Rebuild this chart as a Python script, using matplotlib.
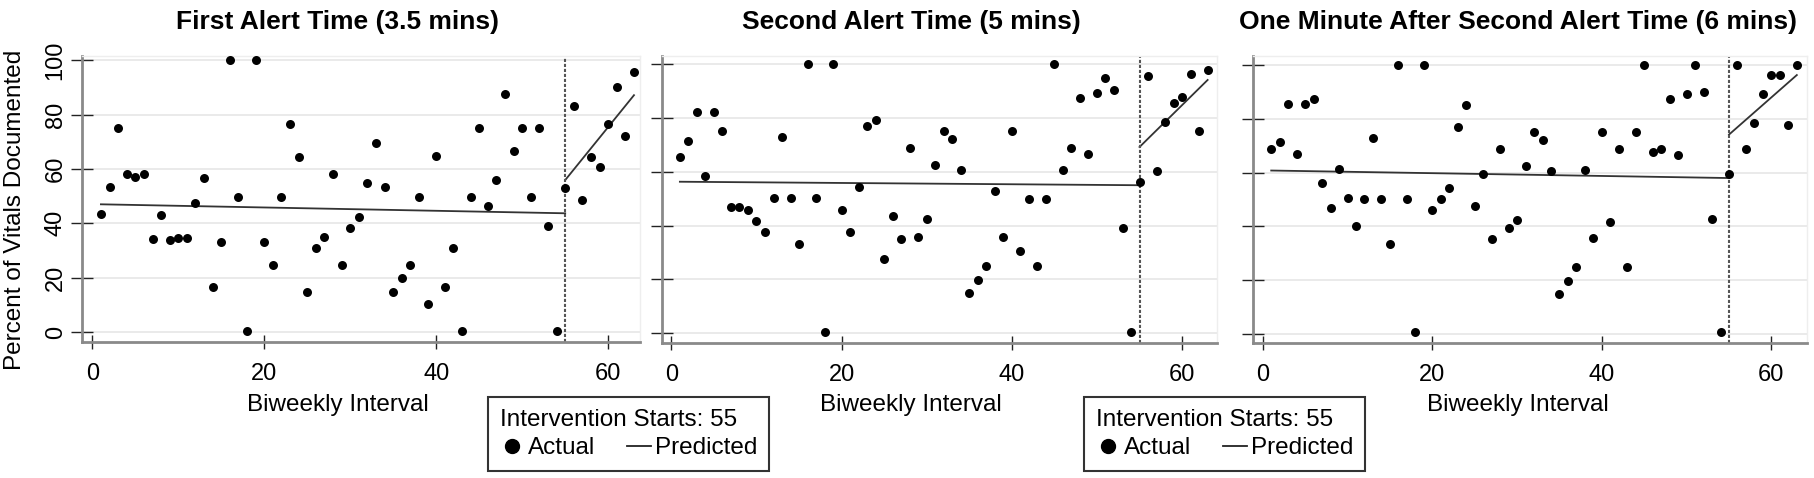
import matplotlib
matplotlib.use("Agg")
import matplotlib.pyplot as plt
from matplotlib.lines import Line2D

plt.rcParams['font.family'] = ['Liberation Sans', 'DejaVu Sans']

# biweekly intervals 1..63, intervention starts at 55
intervals = list(range(1, 64))
intervention = 55

first_alert = [43.6, 53.4, 74.9, 58.3, 56.9, 58.3, 34.3, 43.2, 34.0, 34.5,
               34.8, 47.5, 56.7, 16.5, 33.2, 100, 49.8, 0.5, 100, 33.2,
               24.8, 49.8, 76.6, 64.5, 14.8, 31.1, 34.9, 58.3, 24.8, 38.4,
               42.4, 55.0, 69.4, 53.4, 14.8, 19.8, 24.8, 49.8, 10.5, 64.9,
               16.5, 31.1, 0.5, 49.8, 74.9, 46.3, 56.1, 87.4, 66.5, 74.9,
               49.8, 74.9, 39.2, 0.5, 53.0, 83.2, 48.5, 64.3, 60.6, 76.6,
               90.0, 72.2, 95.7]
second_alert = [65.6, 71.4, 82.2, 58.4, 82.2, 75.0, 46.9, 46.9, 45.7, 41.6,
                37.5, 50.1, 72.8, 50.1, 33.3, 100, 50.1, 0.5, 100, 45.9,
                37.5, 54.2, 76.9, 79.1, 27.6, 43.7, 35.0, 68.7, 35.8, 42.5,
                62.5, 75.0, 72.2, 60.6, 15.1, 19.9, 25.1, 52.7, 35.8, 75.0,
                30.4, 50.0, 25.1, 50.0, 100, 60.6, 68.7, 87.5, 66.7, 89.2,
                94.9, 90.2, 39.2, 0.5, 56.3, 95.7, 60.3, 78.6, 85.6, 87.6,
                96.5, 75.0, 97.9]
one_min_after = [68.8, 71.4, 85.7, 66.8, 85.7, 87.6, 56.3, 46.8, 61.3, 50.7,
                 40.0, 50.1, 72.8, 50.1, 33.3, 100, 50.1, 0.5, 100, 45.9,
                 50.1, 54.2, 76.9, 85.4, 47.5, 59.5, 35.1, 68.8, 39.3, 42.4,
                 62.5, 75.1, 72.2, 60.7, 14.8, 19.8, 24.9, 61.1, 35.7, 75.1,
                 41.6, 68.7, 24.9, 75.1, 100, 67.8, 68.7, 87.5, 66.7, 89.3,
                 100, 90.1, 42.8, 0.5, 59.5, 100, 69.0, 78.6, 89.2, 96.5,
                 96.5, 77.8, 100]

# predicted segment end points (pre and post intervention)
pre_x = [1, 55]
post_x = [55, 63]
pred_pre = [[47.0, 43.7], [56.3, 55.0], [60.8, 58.0]]
pred_post = [[55.9, 87.1], [69.2, 94.1], [74.2, 96.4]]

titles = ["First Alert Time (3.5 mins)", "Second Alert Time (5 mins)",
          "One Minute After Second Alert Time (6 mins)"]
series = [first_alert, second_alert, one_min_after]

W, H = 1814, 478
fig = plt.figure(figsize=(W / 100, H / 100), dpi=100)

# pixel boxes: left, right, top, bottom
boxes = [(82, 640, 56, 342), (662, 1217, 56, 343), (1253, 1807, 56, 343)]
xlims = [(-1.2, 63.7), (-1.1, 64.1), (-1.15, 64.2)]
ylims = [(-3.6, 101.5), (-3.6, 103.0), (-3.5, 103.5)]
title_x = [338, 911, 1518]

for i in range(3):
    l, r, t, b = boxes[i]
    ax = fig.add_axes([l / W, 1 - b / H, (r - l) / W, (b - t) / H])
    ax.set_axisbelow(True)
    ax.grid(axis='y', color='#e8e8e8', lw=1.3)
    ax.plot(pre_x, pred_pre[i], color='#333333', lw=1.3, zorder=2)
    ax.plot(post_x, pred_post[i], color='#333333', lw=1.3, zorder=2)
    ax.axvline(intervention, color='#555555', lw=1.5, ls=(0, (1.5, 0.9)), zorder=2)
    ax.scatter(intervals, series[i], s=42, color='black', linewidths=0, zorder=3)
    ax.set_xlim(*xlims[i])
    ax.set_ylim(*ylims[i])
    ax.set_xticks([0, 20, 40, 60])
    ax.set_yticks([0, 20, 40, 60, 80, 100])
    ax.tick_params(axis='x', direction='inout', length=10, width=1, color='#222222',
                   labelsize=17, pad=10)
    ax.tick_params(axis='y', direction='inout', length=16, width=1, color='#222222',
                   labelsize=17, labelrotation=90, pad=3)
    for lab in ax.get_yticklabels():
        lab.set_va('center')
    if i > 0:
        ax.tick_params(axis='y', labelleft=False)
    for s in ['left', 'bottom']:
        ax.spines[s].set_color('#8a8a8a')
        ax.spines[s].set_linewidth(2)
    for s in ['top', 'right']:
        ax.spines[s].set_color('#eeeeee')
        ax.spines[s].set_linewidth(1)
    fig.text(title_x[i] / W, 1 - 29 / H, titles[i], ha='center', va='baseline',
             fontsize=19, fontweight='bold')
    fig.text(title_x[i] / W, 1 - 411 / H, "Biweekly Interval", ha='center',
             va='baseline', fontsize=17.5)

fig.text(15 / W, 1 - 210 / H, "Percent of Vitals Documented", rotation=90,
         ha='center', va='center', fontsize=17.5)

handles = [Line2D([], [], marker='o', ls='none', color='black', markersize=10),
           Line2D([], [], color='#222222', lw=1.3)]
for lx in [488, 1084]:
    leg = fig.legend(handles, ['Actual', 'Predicted'], title='Intervention Starts: 55',
                     ncol=2, loc='upper left', bbox_to_anchor=(lx / W, 1 - 397 / H),
                     fontsize=17.5, title_fontsize=17.5, frameon=True, fancybox=False,
                     edgecolor='black', handlelength=1.0, handletextpad=0.15,
                     columnspacing=1.3, borderpad=0.5, labelspacing=0.25,
                     alignment='left', borderaxespad=0)
    leg.get_frame().set_linewidth(1.5)

fig.savefig('out.png', dpi=100)
